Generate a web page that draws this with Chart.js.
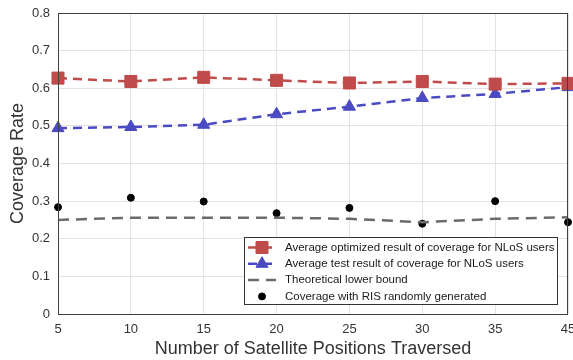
<!DOCTYPE html>
<html>
<head>
<meta charset="utf-8">
<script src="https://cdn.jsdelivr.net/npm/chart.js@4/dist/chart.umd.min.js"></script>
<style>
	html, body { margin: 0; padding: 0; background: #fff; }
	#wrap { width: 573px; height: 360px; }
</style>
</head>
<body>
<div id="wrap"><canvas id="coverage-chart" width="573" height="360"></canvas></div>
<script>
var positions = ['5', '10', '15', '20', '25', '30', '35', '45'];
var optimizedNlos = [0.627, 0.618, 0.629, 0.621, 0.614, 0.618, 0.611, 0.613];
var testNlos = [0.494, 0.497, 0.503, 0.531, 0.551, 0.574, 0.585, 0.603];
var lowerBound = [0.250, 0.256, 0.256, 0.256, 0.253, 0.244, 0.253, 0.257];
var randomRis = [0.284, 0.309, 0.299, 0.268, 0.282, 0.240, 0.300, 0.244];
var yTicks = [0, 0.1, 0.2, 0.3, 0.4, 0.5, 0.6, 0.7, 0.8];

var red = '#bf4b4b',
	blue = '#4a4ac2',
	gray = '#6b6b6b',
	font = 'Liberation Sans, Arial, sans-serif';

//Box around the plot and legend drawn inside the chart area, like MATLAB
var boxAndLegend = {
	id: 'boxAndLegend',
	afterDraw: function(chart) {
		var ctx = chart.ctx,
			area = chart.chartArea;

		ctx.save();
		ctx.strokeStyle = '#404040';
		ctx.lineWidth = 1;
		ctx.strokeRect(area.left + 0.5, area.top + 0.5, area.right - area.left - 1, area.bottom - area.top);

		//Legend box
		var x0 = 244,
			y0 = 237,
			w = 313,
			h = 67;
		ctx.fillStyle = '#fff';
		ctx.fillRect(x0, y0, w, h);
		ctx.strokeStyle = '#333';
		ctx.strokeRect(x0 + 0.5, y0 + 0.5, w, h);

		var rowH = 16.3,
			lineX1 = x0 + 4,
			lineX2 = x0 + 32,
			textX = x0 + 41;

		ctx.font = '11.5px ' + font;
		ctx.textBaseline = 'middle';

		chart.data.datasets.forEach(function(ds, i) {
			var y = y0 + 10.5 + i * rowH;

			if (ds.showLine !== false) {
				ctx.strokeStyle = ds.borderColor;
				ctx.lineWidth = 2.5;
				ctx.setLineDash(ds.borderDash || []);
				ctx.beginPath();
				ctx.moveTo(lineX1, y);
				ctx.lineTo(lineX2, y);
				ctx.stroke();
				ctx.setLineDash([]);
			}

			if (ds.pointRadius > 0) {
				ctx.fillStyle = ds.pointBackgroundColor;
				ctx.strokeStyle = ds.pointBorderColor;
				ctx.lineWidth = 1;
				Chart.helpers.drawPoint(ctx, {
					pointStyle: ds.pointStyle,
					radius: ds.pointRadius,
					borderWidth: 1
				}, (lineX1 + lineX2) / 2, y);
			}

			ctx.fillStyle = '#1a1a1a';
			ctx.fillText(ds.label, textX, y);
		});
		ctx.restore();
	}
};

var coverageChart = new Chart(document.getElementById('coverage-chart'), {
	type: 'line',
	data: {
		labels: positions,
		datasets: [
			{
				label: 'Average optimized result of coverage for NLoS users',
				data: optimizedNlos,
				borderColor: red,
				backgroundColor: red,
				borderWidth: 2.5,
				borderDash: [9, 6],
				pointStyle: 'rect',
				pointRadius: 8.5,
				pointBackgroundColor: red,
				pointBorderColor: red,
				pointBorderWidth: 1,
				tension: 0,
				clip: false
			},
			{
				label: 'Average test result of coverage for NLoS users',
				data: testNlos,
				borderColor: blue,
				backgroundColor: blue,
				borderWidth: 2.5,
				borderDash: [9, 6],
				pointStyle: 'triangle',
				pointRadius: 7,
				pointBackgroundColor: blue,
				pointBorderColor: blue,
				pointBorderWidth: 1,
				tension: 0,
				clip: false
			},
			{
				label: 'Theoretical lower bound',
				data: lowerBound,
				borderColor: gray,
				backgroundColor: gray,
				borderWidth: 2.5,
				borderDash: [11, 7],
				pointRadius: 0,
				pointBackgroundColor: gray,
				pointBorderColor: gray,
				tension: 0
			},
			{
				label: 'Coverage with RIS randomly generated',
				data: randomRis,
				showLine: false,
				pointStyle: 'circle',
				pointRadius: 3.5,
				pointBackgroundColor: '#000',
				pointBorderColor: '#000',
				pointBorderWidth: 1,
				borderColor: '#000',
				backgroundColor: '#000',
				clip: false
			}
		]
	},
	options: {
		responsive: false,
		animation: false,
		layout: {
			autoPadding: false,
			padding: { left: 0, top: 13, right: 5, bottom: 0 }
		},
		plugins: {
			legend: { display: false },
			tooltip: { enabled: false }
		},
		scales: {
			x: {
				type: 'category',
				offset: false,
				grid: { color: '#e3e3e3', drawTicks: false },
				border: { display: false },
				ticks: {
					color: '#333',
					font: { family: font, size: 13 },
					padding: 8,
					maxRotation: 0,
					autoSkip: false
				},
				title: {
					display: true,
					text: 'Number of Satellite Positions Traversed',
					color: '#333',
					font: { family: font, size: 18 },
					padding: { top: 0, bottom: 0 }
				},
				afterFit: function(scale) {
					scale.height = 46;
					scale.paddingLeft = 0;
					scale.paddingRight = 0;
				}
			},
			y: {
				min: 0,
				max: 0.8,
				afterBuildTicks: function(scale) {
					scale.ticks = yTicks.map(function(v) { return { value: v }; });
				},
				grid: { color: '#e3e3e3', drawTicks: false },
				border: { display: false },
				ticks: {
					color: '#333',
					font: { family: font, size: 13 },
					padding: 8,
					callback: function(value) {
						return value === 0 ? '0' : value.toFixed(1);
					}
				},
				title: {
					display: true,
					text: 'Coverage Rate',
					color: '#333',
					font: { family: font, size: 18 },
					padding: { top: 7, bottom: 0 }
				},
				afterFit: function(scale) {
					scale.width = 58;
					scale.paddingTop = 0;
					scale.paddingBottom = 0;
				}
			}
		}
	},
	plugins: [boxAndLegend]
});
</script>
</body>
</html>
